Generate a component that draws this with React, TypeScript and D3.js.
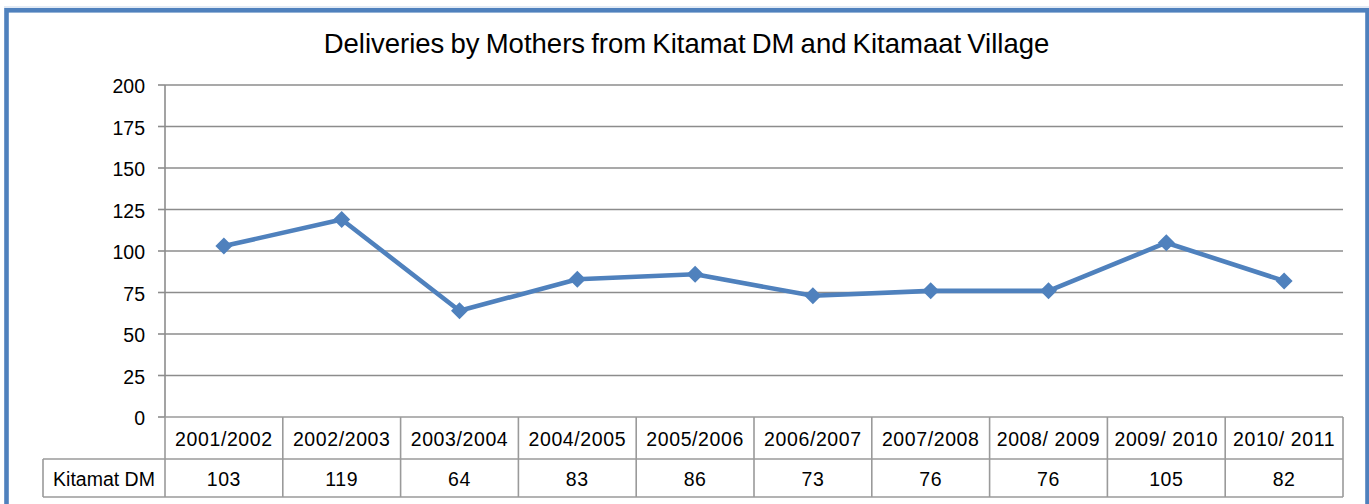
import React from "react";
import * as d3 from "d3";

const categories = ["2001/2002", "2002/2003", "2003/2004", "2004/2005", "2005/2006", "2006/2007", "2007/2008", "2008/ 2009", "2009/ 2010", "2010/ 2011"];
const seriesName = "Kitamat DM";
const values = [103, 119, 64, 83, 86, 73, 76, 76, 105, 82];
const yTicks = [0, 25, 50, 75, 100, 125, 150, 175, 200];
const title = "Deliveries by Mothers from Kitamat DM and Kitamaat Village";

export default function App() {
  const W = 1369, H = 504;
  const left = 165, right = 1343, top = 85, bottom = 417;
  const tRow1 = 459, tRow2 = 497;
  const labelLeft = 43;
  const font = "Liberation Sans, Arial, sans-serif";

  const x = d3.scaleBand<string>().domain(categories).range([left, right]);
  const y = d3.scaleLinear().domain([0, 200]).range([bottom, top]);
  const line = d3.line<number>().x((_, i) => x(categories[i])! + x.bandwidth() / 2).y((d) => y(d));
  const grid = "#8c8c8c";
  const tableStroke = "#9a9a9a";
  const blue = "#4F81BD";

  return (
    <svg width={W} height={H} style={{ position: "absolute", left: 0, top: 0, background: "#fff" }} fontFamily={font}>
      <rect x={0} y={0} width={W} height={H} fill="#fff" />
      <line x1={4} x2={W} y1={7} y2={7} stroke="#c6d6ea" strokeWidth={1} />
      <rect x={6.5} y={10.3} width={1361} height={600} fill="none" stroke={blue} strokeWidth={4.6} />
      <text x={686.5} y={52.5} textAnchor="middle" fontSize={27.5} wordSpacing={-1.5} fill="#000">{title}</text>
      {yTicks.map((t) => (
        <g key={t}>
          {t > 0 && <line x1={left} x2={right} y1={y(t)} y2={y(t)} stroke={grid} strokeWidth={1.6} />}
          <line x1={left - 7} x2={left} y1={y(t)} y2={y(t)} stroke={grid} strokeWidth={1.6} />
          <text x={145} y={y(t)} dy="0.43em" textAnchor="end" fontSize={19.5} fill="#000">{t}</text>
        </g>
      ))}
      <line x1={left} x2={left} y1={top} y2={bottom} stroke={grid} strokeWidth={1.6} />
      <g stroke={tableStroke} strokeWidth={1.6} fill="none">
        <line x1={left} x2={right} y1={bottom} y2={bottom} />
        <line x1={labelLeft} x2={right} y1={tRow1} y2={tRow1} />
        <line x1={labelLeft} x2={right} y1={tRow2} y2={tRow2} />
        <line x1={labelLeft} x2={labelLeft} y1={tRow1} y2={tRow2} />
        {categories.map((c) => (
          <line key={c} x1={x(c)!} x2={x(c)!} y1={bottom} y2={tRow2} />
        ))}
        <line x1={right} x2={right} y1={bottom} y2={tRow2} />
      </g>
      {categories.map((c, i) => (
        <g key={c}>
          <text x={x(c)! + x.bandwidth() / 2} y={445.7} textAnchor="middle" fontSize={19.5} letterSpacing={0.6} fill="#000">{c}</text>
          <text x={x(c)! + x.bandwidth() / 2} y={486} textAnchor="middle" fontSize={19.5} letterSpacing={0.6} fill="#000">{values[i]}</text>
        </g>
      ))}
      <text x={(labelLeft + left) / 2} y={486} textAnchor="middle" fontSize={19.5} fill="#000">{seriesName}</text>
      <path d={line(values)!} fill="none" stroke={blue} strokeWidth={4.6} strokeLinejoin="round" />
      {values.map((v, i) => {
        const cx = x(categories[i])! + x.bandwidth() / 2;
        const cy = y(v);
        const s = 8.5;
        return <path key={i} d={`M${cx},${cy - s}L${cx + s},${cy}L${cx},${cy + s}L${cx - s},${cy}Z`} fill={blue} />;
      })}
    </svg>
  );
}
